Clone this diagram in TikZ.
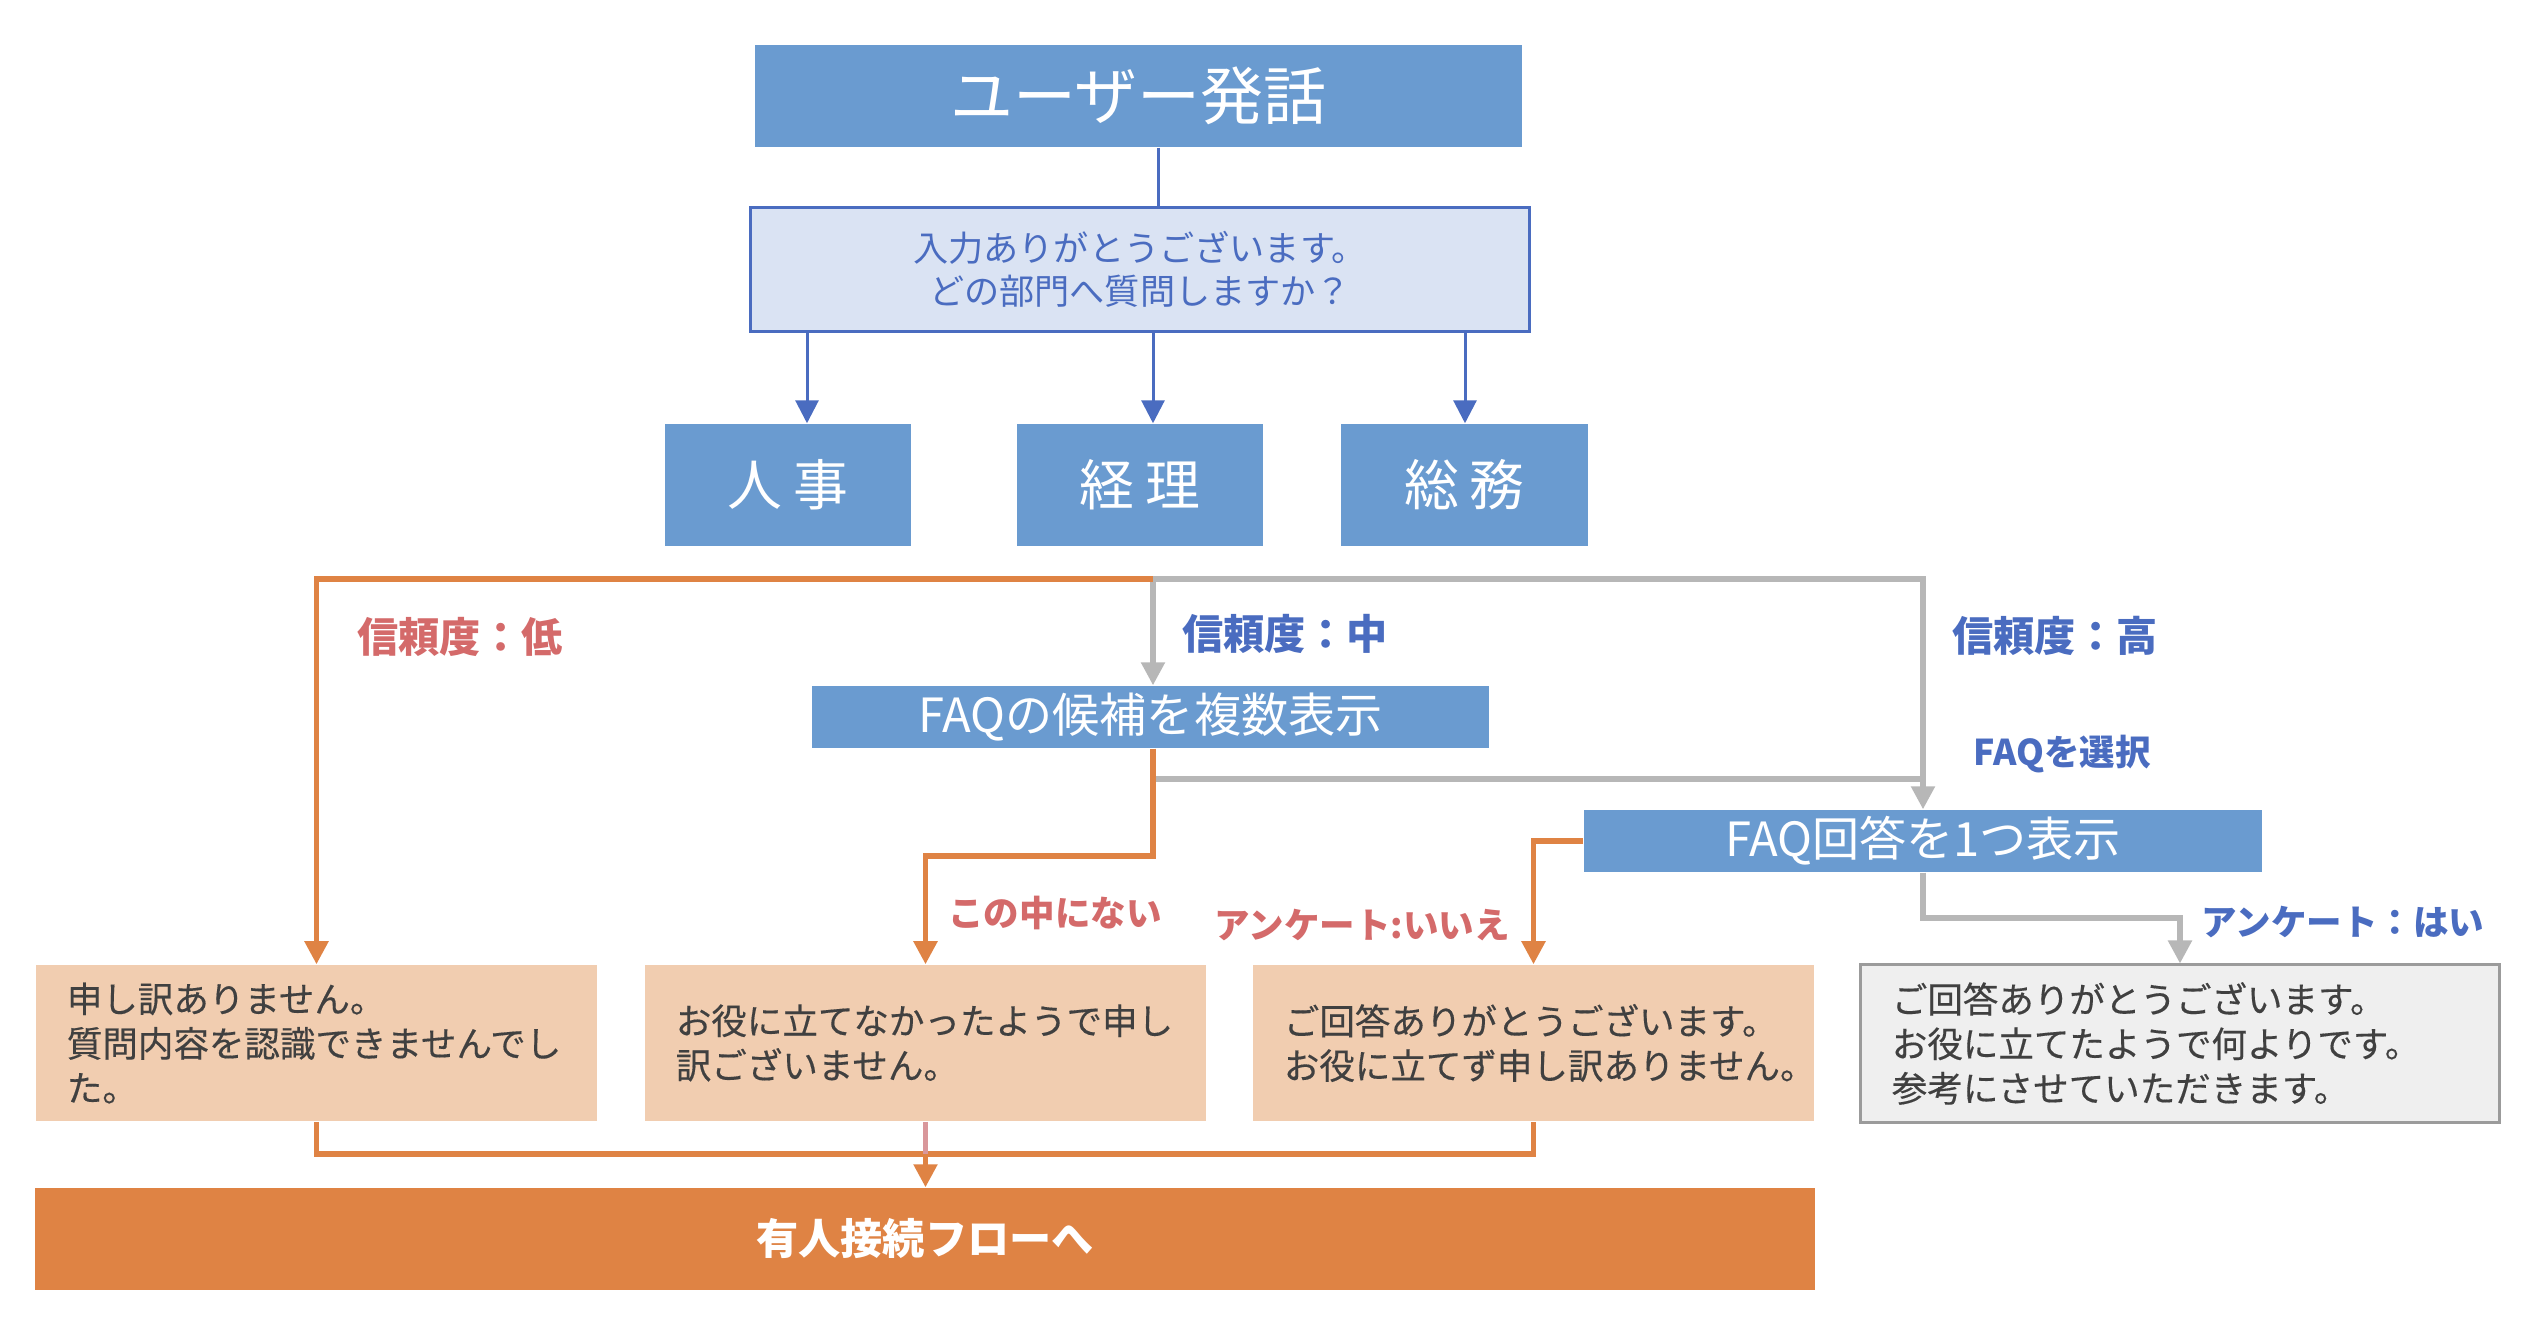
\documentclass[tikz,border=0pt]{standalone}
\usepackage{fontspec}
\newfontfamily\jp{Noto Sans CJK JP}
\newfontfamily\jpm{Noto Sans CJK JP}[FakeBold=0.35]
\usetikzlibrary{arrows.meta}
\newcommand\fsz[2]{\fontsize{#1}{#2}\selectfont}
\definecolor{boxblue}{HTML}{6A9BD0}
\definecolor{lightblue}{HTML}{DAE3F3}
\definecolor{lineblue}{HTML}{4A6CC0}
\definecolor{orangeC}{HTML}{DF8344}
\definecolor{peach}{HTML}{F1CDB0}
\definecolor{greyL}{HTML}{B7B7B7}
\definecolor{greyF}{HTML}{EFEFEF}
\definecolor{greyB}{HTML}{9B9B9B}
\definecolor{redT}{HTML}{D46A6A}
\definecolor{blueT}{HTML}{4A6CC0}
\definecolor{darkT}{HTML}{404040}
\definecolor{pinkL}{HTML}{D9979B}
\tikzset{
  every node/.style={font=\jp},
  bluebox/.style={fill=boxblue, text=white, inner sep=0pt},
  qbox/.style={fill=lightblue, draw=lineblue, line width=0.85pt, text=blueT, align=center, inner sep=0pt, font=\jp\fsz{10pt}{12.2pt}},
  peachbox/.style={fill=peach, text=darkT, align=left, inner xsep=0.31cm, inner ysep=0pt, font=\jpm\fsz{10.1pt}{12.65pt}},
  greybox/.style={fill=greyF, draw=greyB, line width=0.85pt, text=darkT, align=left, inner xsep=0.31cm, inner ysep=0pt, font=\jpm\fsz{10.1pt}{12.65pt}},
  orangebox/.style={fill=orangeC, text=white, inner sep=0pt, font=\jp\bfseries\fsz{12pt}{14pt}},
  lab/.style={inner sep=0pt, font=\jp\bfseries\fsz{11.7pt}{14pt}},
  slab/.style={inner sep=0pt, font=\jp\bfseries\fsz{10.1pt}{12pt}},
  tipA/.style={-{Triangle[width=0.23cm,length=0.23cm]}},
  bluearrow/.style={draw=lineblue, line width=0.85pt, tipA},
  blueline/.style={draw=lineblue, line width=0.85pt},
  orangeline/.style={draw=orangeC, line width=1.5pt, line join=miter},
  orangearrow/.style={orangeline, tipA},
  greyline/.style={draw=greyL, line width=1.5pt, line join=miter},
  greyarrow/.style={greyline, tipA},
  pinkline/.style={draw=pinkL, line width=1.5pt},
}
\begin{document}
\begin{tikzpicture}[x=0.01cm, y=-0.01cm]
\useasboundingbox[fill=white] (0,0) rectangle (2544,1336);
% nodes
\node[bluebox, minimum width=7.67cm, minimum height=1.02cm, font=\jp\fsz{17.9pt}{20pt}] (top) at (1138.5,96) {ユーザー発話};
\node[qbox, minimum width=7.78cm, minimum height=1.23cm] (q) at (1140,269.5) {入力ありがとうございます。\\どの部門へ質問しますか？};
\node[bluebox, minimum width=2.46cm, minimum height=1.22cm, font=\jp\fsz{15.6pt}{18pt}] (hr) at (788,485) {人\hspace{0.2em}事};
\node[bluebox, minimum width=2.46cm, minimum height=1.22cm, font=\jp\fsz{15.6pt}{18pt}] (acc) at (1140,485) {経\hspace{0.2em}理};
\node[bluebox, minimum width=2.46cm, minimum height=1.22cm, font=\jp\fsz{15.6pt}{18pt}] (ga) at (1464.5,485) {総\hspace{0.2em}務};
\node[bluebox, minimum width=6.77cm, minimum height=0.62cm, font=\jp\fsz{13.4pt}{15pt}] (faq) at (1150.5,717) {FAQの候補を複数表示};
\node[bluebox, minimum width=6.78cm, minimum height=0.62cm, font=\jp\fsz{13.4pt}{15pt}] (one) at (1923,841) {FAQ回答を1つ表示};
\node[peachbox, minimum width=5.61cm, minimum height=1.56cm, text width=4.99cm] (b1) at (316.5,1043) {申し訳ありません。\\質問内容を認識できませんでし\\た。};
\node[peachbox, minimum width=5.61cm, minimum height=1.56cm, text width=4.99cm] (b2) at (925.5,1043) {お役に立てなかったようで申し\\訳ございません。};
\node[peachbox, minimum width=5.61cm, minimum height=1.56cm, text width=4.99cm] (b3) at (1533.5,1043) {ご回答ありがとうございます。\\お役に立てず申し訳ありません。};
\node[greybox, minimum width=6.38cm, minimum height=1.57cm, text width=5.76cm] (b4) at (2180,1043.5) {ご回答ありがとうございます。\\お役に立てたようで何よりです。\\参考にさせていただきます。};
\node[orangebox, minimum width=17.78cm, minimum height=1.02cm] (bot) at (925,1239) {有人接続フローへ};
% labels
\node[lab, text=redT] (l1) at (460,637) {信頼度：低};
\node[lab, text=blueT] (l2) at (1285,634) {信頼度：中};
\node[lab, text=blueT] (l3) at (2055,636) {信頼度：高};
\node[slab, text=blueT] (l4) at (2062,754) {FAQを選択};
\node[slab, text=redT] (l5) at (1055,913) {この中にない};
\node[slab, text=redT] (l6) at (1362,925) {アンケート:いいえ};
\node[slab, text=blueT] (l7) at (2343,922) {アンケート：はい};
% coordinates
\coordinate (xA) at (1158,0);
\coordinate (xH) at (807,0);
\coordinate (xK) at (1153,0);
\coordinate (xS) at (1465,0);
\coordinate (J1) at (1153,579);
\coordinate (J2) at (1155,779);
\coordinate (J3) at (1153,856);
\coordinate (M) at (0,918);
\coordinate (Ym) at (0,1154);
% connectors
\draw[blueline] (top.south -| xA) -- (q.north -| xA);
\draw[bluearrow] (q.south -| xH) -- (hr.north -| xH);
\draw[bluearrow] (q.south -| xK) -- (acc.north -| xK);
\draw[bluearrow] (q.south -| xS) -- (ga.north -| xS);
\draw[greyarrow] (J1) -| (one.north);
\draw[greyarrow] (J1) -- (J1 |- faq.north);
\draw[orangearrow] (J1) -| (b1.north);
\draw[greyline] (J2) -- (J2 -| one.north);
\draw[orangearrow] (faq.south -| J3) -- (J3) -| (b2.north);
\draw[orangearrow] (one.west) -| (b3.north);
\draw[greyarrow] (one.south) -- (one.south |- M) -| (b4.north);
\draw[orangeline] (b1.south) -- (b1.south |- Ym) -- (b3.south |- Ym) -- (b3.south);
\draw[pinkline] (b2.south) -- (b2.south |- Ym);
\draw[orangearrow] (b2.south |- Ym) -- (bot.north -| b2.south);
\end{tikzpicture}
\end{document}
